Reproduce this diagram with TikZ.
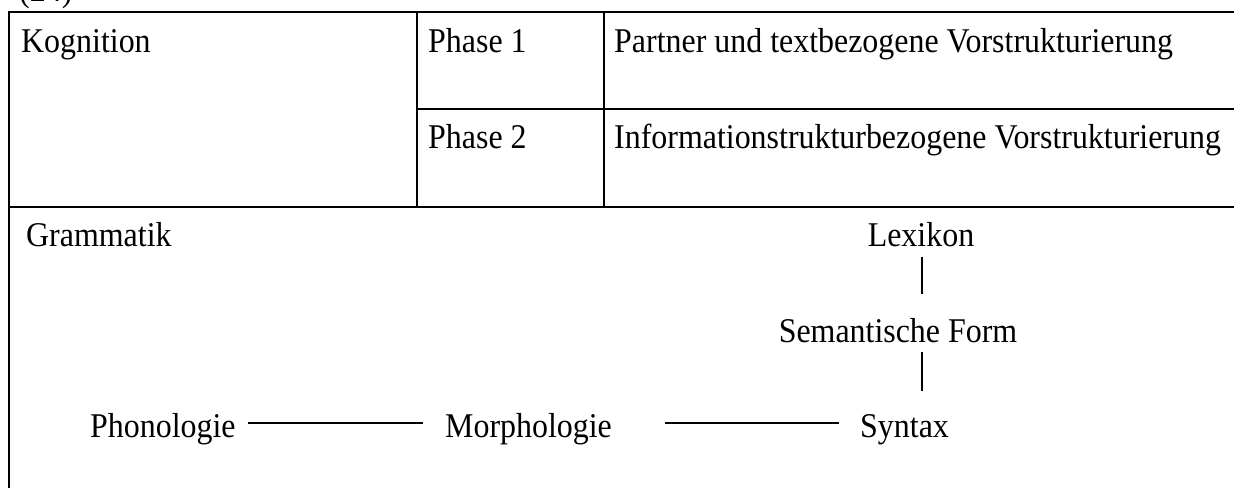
\documentclass[tikz,border=0pt]{standalone}
\usepackage{fontspec}
\setmainfont{Liberation Serif}[FakeStretch=0.92]
\begin{document}
\begin{tikzpicture}[x=1pt,y=-1pt,
  rule/.style={line width=2.8pt},
  link/.style={line width=2pt},
  lbl/.style={inner sep=0pt,font=\fontsize{34.7}{40}\selectfont},
  lblw/.style={lbl,anchor=base west},
  lblc/.style={lbl,anchor=base}]
\useasboundingbox (0,0) rectangle (1234,488);
\fill[white] (0,0) rectangle (1234,488);

% example number (mostly above the page edge)
\node[lblw] (num) at (19,1) {(24)};

% table rules
\draw[rule] (9,488) -- (9,12) -- (1234,12);
\draw[rule] (9,207) -- (1234,207);
\draw[rule] (417,12) -- (417,207);
\draw[rule] (604,12) -- (604,207);
\draw[rule] (417,109) -- (1234,109);

% upper block: cognition
\node[lblw] (kog) at (21,52) {Kognition};
\node[lblw] (ph1) at (428,52) {Phase 1};
\node[lblw] (ph1t) at (614,52) {Partner und textbezogene Vorstrukturierung};
\node[lblw] (ph2) at (428,148) {Phase 2};
\node[lblw] (ph2t) at (614,148) {Informationstrukturbezogene Vorstrukturierung};

% lower block: grammar
\node[lblw] (gram) at (26,246) {Grammatik};
\node[lblc] (lex) at (921,246) {Lexikon};
\node[lblc] (sem) at (898,342) {Semantische Form};
\node[lblw] (pho) at (90,437) {Phonologie};
\node[lblw] (mor) at (445,437) {Morphologie};
\node[lblw] (syn) at (860,437) {Syntax};

% connectors
\coordinate (lexb) at (922,257);
\coordinate (semt) at (922,294);
\coordinate (semb) at (922,352);
\coordinate (synt) at (922,391);
\draw[link] (lexb) -- (semt);
\draw[link] (semb) -- (synt);
\coordinate (phoR) at (248,423);
\coordinate (morL) at (423,423);
\coordinate (morR) at (665,423);
\coordinate (synL) at (839,423);
\draw[link] (phoR) -- (morL);
\draw[link] (morR) -- (synL);
\end{tikzpicture}
\end{document}
